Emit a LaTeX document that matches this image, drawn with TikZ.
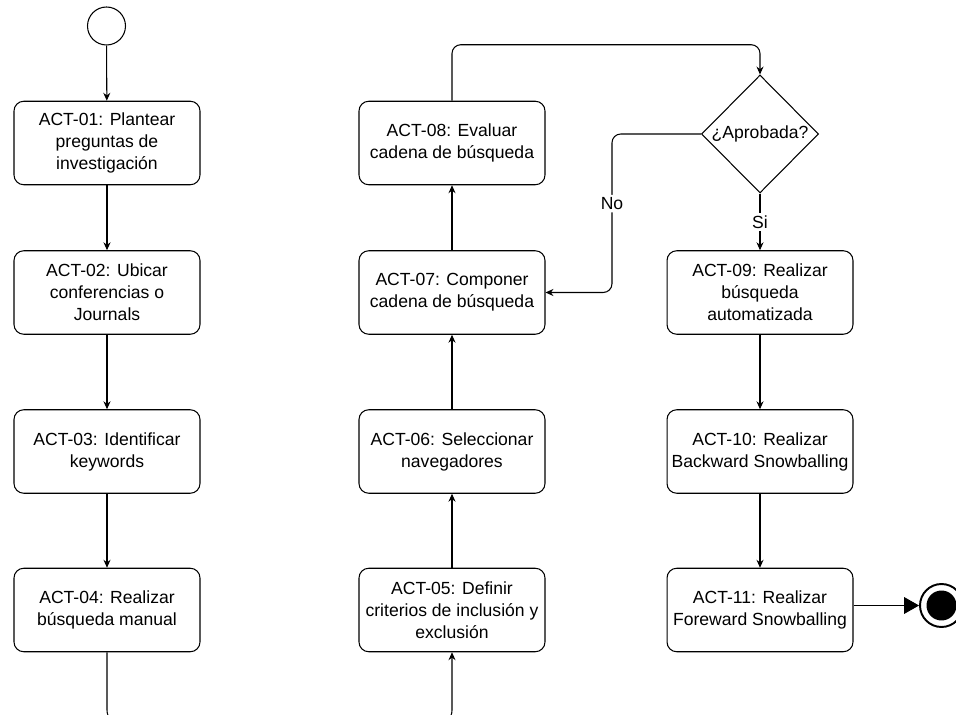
\documentclass[tikz,border=0pt]{standalone}
\usepackage{fontspec}
\setmainfont{Liberation Sans}
\usetikzlibrary{shapes.geometric, arrows.meta}

\begin{document}
\begin{tikzpicture}[x=0.02cm, y=-0.02cm,
    act/.style={draw, rounded corners=5.5pt, line width=0.6pt,
                minimum width=3.72cm, minimum height=1.67cm, inner sep=2pt,
                align=center, font=\fontsize{10}{12.5}\selectfont},
    decision/.style={draw, diamond, line width=0.6pt, inner sep=0pt,
                minimum width=2.34cm, minimum height=2.36cm,
                font=\fontsize{10}{12.5}\selectfont},
    lbl/.style={fill=white, inner sep=1.5pt, font=\fontsize{10}{12.5}\selectfont},
    flow/.style={line width=0.6pt, -{Stealth[length=4.5pt, width=4pt]}},
    endflow/.style={line width=0.6pt, -{Triangle[length=8.5pt, width=9.5pt]}}]

    \useasboundingbox (0, 0) rectangle (956, 715);
    \clip (0, 0) rectangle (956, 715);

    % Start
    \path (106.5, 26) node [draw, circle, line width=0.6pt, minimum size=0.76cm,
          inner sep=0pt] (start) {};

    % Left column
    \path (107, 143)   node [act] (act01) {ACT-01: Plantear\\preguntas de\\investigación};
    \path (107, 292.5) node [act] (act02) {ACT-02: Ubicar\\conferencias o\\Journals};
    \path (107, 451.5) node [act] (act03) {ACT-03: Identificar\\keywords};
    \path (107, 610)   node [act] (act04) {ACT-04: Realizar\\búsqueda manual};

    % Middle column
    \path (452, 610)   node [act] (act05) {ACT-05: Definir\\criterios de inclusión y\\exclusión};
    \path (452, 451.5) node [act] (act06) {ACT-06: Seleccionar\\navegadores};
    \path (452, 292.5) node [act] (act07) {ACT-07: Componer\\cadena de búsqueda};
    \path (452, 143)   node [act] (act08) {ACT-08: Evaluar\\cadena de búsqueda};

    % Right column
    \path (760, 134)   node [decision] (dec) {¿Aprobada?};
    \path (760, 292.5) node [act] (act09) {ACT-09: Realizar\\búsqueda\\automatizada};
    \path (760, 451.5) node [act] (act10) {ACT-10: Realizar\\Backward Snowballing};
    \path (760, 610)   node [act] (act11) {ACT-11: Realizar\\Foreward Snowballing};

    % End
    \path (941.5, 605.5) node [draw, circle, line width=1.1pt, minimum size=0.86cm,
          inner sep=0pt,
          path picture={\fill (path picture bounding box.center) circle (0.3cm);}]
          (stop) {};

    % Connections
    \foreach \a/\b in {start/act01, act01/act02, act02/act03, act03/act04,
                       act05/act06, act06/act07, act07/act08, act09/act10, act10/act11} {
        \draw [flow] (\a) -- (\b);
    }
    \draw [flow, rounded corners=8pt] (act04.south) -- ++(0, 72) -| (act05.south);
    \draw [flow, rounded corners=5pt] (act08.north) -- ++(0, -56) -| (dec.north);
    \draw [flow, rounded corners=5pt] (dec.west) -- ++(-89, 0)
          |- node [lbl, pos=0.22] {No} (act07.east);
    \draw [flow] (dec.south) -- node [lbl] {Si} (act09.north);
    \draw [endflow] (act11.east |- stop.west) -- (stop.west);
\end{tikzpicture}
\end{document}
